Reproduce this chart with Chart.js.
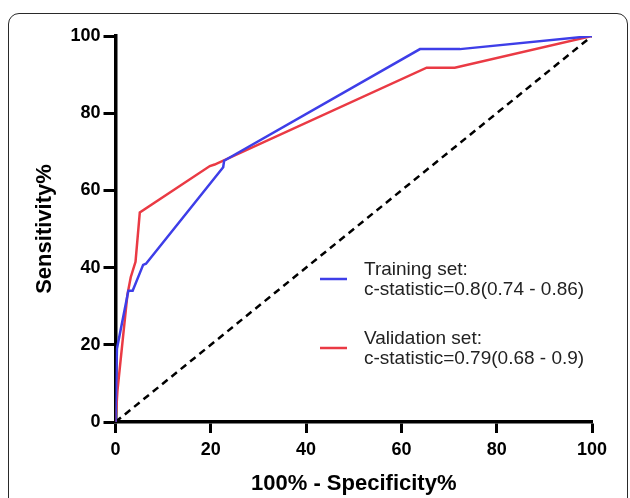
<!DOCTYPE html>
<html>
<head>
<meta charset="utf-8">
<script src="https://cdn.jsdelivr.net/npm/chart.js@4.4.1/dist/chart.umd.min.js"></script>
<style>
  html, body { margin: 0; padding: 0; background: #fff; overflow: hidden; }
  #wrap { position: relative; width: 630px; height: 498px; }
  #frame {
    position: absolute; left: 8px; top: 13px; width: 618px; height: 540px;
    border: 1.5px solid #2a2a2a; border-radius: 11px;
  }
  canvas { position: absolute; left: 0; top: 0; }
</style>
</head>
<body>
<div id="wrap">
  <div id="frame"></div>
  <canvas id="roc" width="630" height="498"></canvas>
</div>
<script>
// ROC curves, values (x = 100% - specificity, y = sensitivity)
const trainX = [0, 0.3, 2.7, 3.6, 5.8, 6.4, 22.6, 22.8, 63.9, 72.3, 100];
const trainY = [0, 19, 34, 34, 40.7, 41, 66, 67.7, 96.6, 96.6, 100];
const validX = [0, 0.4, 2.5, 3.2, 4.2, 5.1, 19.8, 20.8, 65.3, 71.2, 100];
const validY = [0, 8, 33, 37.5, 41.5, 54.3, 66.3, 66.7, 91.8, 91.8, 100];
const refX = [0, 100];
const refY = [0, 100];
const legendLabels = [
  ['Training set:', 'c-statistic=0.8(0.74 - 0.86)'],
  ['Validation set:', 'c-statistic=0.79(0.68 - 0.9)']
];
const tickValues = [0, 20, 40, 60, 80, 100];

const blue = 'rgb(62, 62, 232)';
const red = 'rgb(234, 58, 68)';

function pts(xs, ys) {
  return xs.map((x, i) => ({ x: x, y: ys[i] }));
}

// legend drawn as two-line entries inside the plot area
const rocLegend = {
  id: 'rocLegend',
  afterDraw(chart) {
    const ctx = chart.ctx;
    const items = [
      { color: blue, lines: legendLabels[0], y: 279 },
      { color: red, lines: legendLabels[1], y: 348 }
    ];
    ctx.save();
    ctx.font = '19px "Liberation Sans", Arial, sans-serif';
    ctx.fillStyle = '#222';
    ctx.textBaseline = 'alphabetic';
    items.forEach(it => {
      ctx.strokeStyle = it.color;
      ctx.lineWidth = 2.5;
      ctx.beginPath();
      ctx.moveTo(320, it.y);
      ctx.lineTo(347, it.y);
      ctx.stroke();
      ctx.fillText(it.lines[0], 364, it.y - 4);
      ctx.fillText(it.lines[1], 364, it.y + 16);
    });
    ctx.restore();
  }
};

const axisFont = { family: '"Liberation Sans", Arial, sans-serif', size: 18, weight: 'bold' };
const titleFont = { family: '"Liberation Sans", Arial, sans-serif', size: 22, weight: 'bold' };

const ctx = document.getElementById('roc').getContext('2d');
const chart = new Chart(ctx, {
  type: 'scatter',
  data: {
    datasets: [
      {
        label: 'Training set',
        data: pts(trainX, trainY),
        showLine: true,
        borderColor: blue,
        borderWidth: 2.5,
        pointRadius: 0,
        tension: 0
      },
      {
        label: 'Validation set',
        data: pts(validX, validY),
        showLine: true,
        borderColor: red,
        borderWidth: 2.5,
        pointRadius: 0,
        tension: 0
      },
      {
        label: 'Reference',
        data: pts(refX, refY),
        showLine: true,
        borderColor: '#000',
        borderWidth: 2.5,
        borderDash: [7, 5],
        pointRadius: 0
      }
    ]
  },
  options: {
    responsive: false,
    animation: false,
    devicePixelRatio: 1,
    layout: { padding: { left: 0, top: 36, right: 38, bottom: 0 } },
    plugins: {
      legend: { display: false },
      tooltip: { enabled: false }
    },
    scales: {
      x: {
        type: 'linear',
        min: 0,
        max: 100,
        afterBuildTicks: s => { s.ticks = tickValues.map(v => ({ value: v })); },
        afterFit: s => { s.height = 76; },
        border: { color: '#000', width: 3.5 },
        grid: { drawOnChartArea: false, tickLength: 11, tickWidth: 3, tickColor: '#000' },
        ticks: { color: '#000', font: axisFont, padding: 6, maxRotation: 0 },
        title: { display: true, text: '100% - Specificity%', color: '#000', font: titleFont, padding: { top: 0, bottom: 1 } }
      },
      y: {
        min: 0,
        max: 100,
        afterBuildTicks: s => { s.ticks = tickValues.map(v => ({ value: v })); },
        afterFit: s => { s.width = 115.5; },
        border: { color: '#000', width: 3.5 },
        grid: { drawOnChartArea: false, tickLength: 12, tickWidth: 3, tickColor: '#000' },
        ticks: { color: '#000', font: axisFont, padding: 3 },
        title: { display: true, text: 'Sensitivity%', color: '#000', font: titleFont, padding: { top: 32, bottom: 0 } }
      }
    }
  },
  plugins: [rocLegend]
});
</script>
</body>
</html>
